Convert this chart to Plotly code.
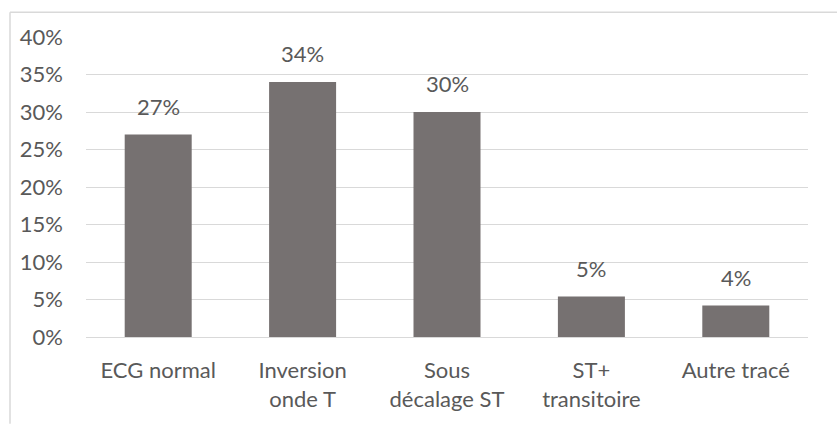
import plotly.graph_objects as go

categories = ["ECG normal", "Inversion onde T", "Sous décalage ST", "ST+ transitoire", "Autre tracé"]
tick_labels = ["ECG normal", "Inversion<br>onde T", "Sous<br>décalage ST", "ST+<br>transitoire", "Autre tracé"]
values = [0.27, 0.34, 0.30, 0.054, 0.042]
value_labels = ["27%", "34%", "30%", "5%", "4%"]
y_ticks = [0, 0.05, 0.10, 0.15, 0.20, 0.25, 0.30, 0.35, 0.40]
y_tick_labels = ["0%", "5%", "10%", "15%", "20%", "25%", "30%", "35%", "40%"]

FONT = "Lato"
TXT = "#595959"

fig = go.Figure()
fig.add_trace(go.Bar(x=categories, y=values, marker=dict(color="#767171", line=dict(width=0)),
                     hoverinfo="skip"))

for c, v, t in zip(categories, values, value_labels):
    fig.add_annotation(x=c, y=v, text=t, showarrow=False, yanchor="bottom", yshift=13,
                       font=dict(family=FONT, size=22, color=TXT))

L, R, T, B = 86, 29, 37, 83
W, H = 837, 424
pw = W - L - R
ph = H - T - B
# outer chart border (left and top visible)
fig.add_shape(type="line", xref="paper", yref="paper",
              x0=(10 - L) / pw, x1=(10 - L) / pw, y0=1 + (T - 12) / ph, y1=-(B + 5) / ph,
              line=dict(color="#d9d9d9", width=1.5))
fig.add_shape(type="line", xref="paper", yref="paper",
              x0=(10 - L) / pw, x1=(W + 5 - L) / pw, y0=1 + (T - 12) / ph, y1=1 + (T - 12) / ph,
              line=dict(color="#d9d9d9", width=1.5))

fig.update_layout(
    width=W, height=H,
    margin=dict(l=L, r=R, t=T, b=B),
    paper_bgcolor="white", plot_bgcolor="white",
    bargap=0.536,
    showlegend=False,
    hovermode=False,
    font=dict(family=FONT, size=22, color=TXT),
    xaxis=dict(tickmode="array", tickvals=categories, ticktext=tick_labels,
               showgrid=False, showline=False, ticks="", ticklabelstandoff=18,
               tickfont=dict(family=FONT, size=22, color=TXT)),
    yaxis=dict(range=[0, 0.40], tickmode="array", tickvals=y_ticks, ticktext=y_tick_labels,
               showgrid=True, gridcolor="#d9d9d9", gridwidth=1.3, zeroline=True,
               zerolinecolor="#d9d9d9", zerolinewidth=1.3, showline=False, ticks="",
               ticklabelstandoff=22, tickfont=dict(family=FONT, size=22, color=TXT)),
)

fig.write_html("out.html", config={"displayModeBar": False},
               post_script="document.body.style.margin='0';document.body.style.overflow='hidden';")
